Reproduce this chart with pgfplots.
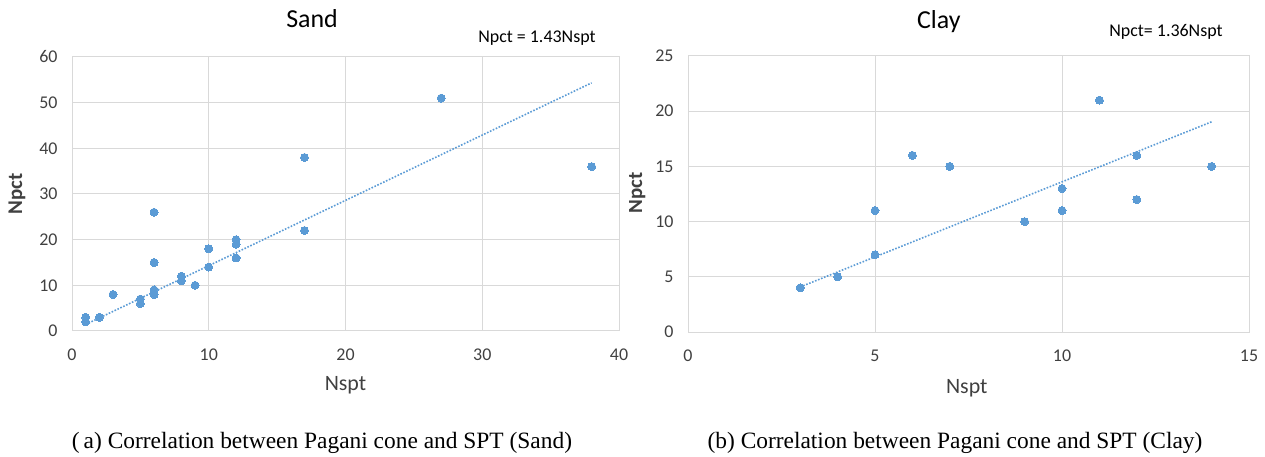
\documentclass[border=0pt]{standalone}
\usepackage{fontspec}
\setmainfont{Carlito}
\newfontfamily\capfont{Liberation Serif}
\usepackage{pgfplots}
\usepackage{pgfplotstable}
\pgfplotsset{compat=1.18}
\definecolor{pt}{HTML}{5B9BD5}
\definecolor{grd}{HTML}{D9D9D9}
\definecolor{txt}{HTML}{404040}

\pgfplotstableread{
x y
1 2
1 3
2 3
3 8
5 6
5 7
6 8
6 9
6 15
6 26
8 11
8 12
9 10
10 14
10 18
12 16
12 19
12 20
17 22
17 38
27 51
38 36
}\sand

\pgfplotstableread{
x y
3 4
4 5
5 7
5 11
6 16
7 15
9 10
10 11
10 13
11 21
12 12
12 16
14 15
}\clay

\pgfplotsset{
  myax/.style={
    scale only axis, anchor=south west, clip=false,
    axis line style={grd, line width=1bp},
    grid=major, grid style={grd, line width=1bp},
    major tick length=0pt, tick style={draw=none},
    ticklabel style={font=\fontsize{18}{20}\selectfont, text=txt},
    xticklabel style={yshift=-14bp},
    yticklabel style={xshift=-11bp},
    /pgf/number format/assume math mode=true,
    every axis title shift=0pt,
    title style={anchor=base, font=\fontsize{26}{28}\selectfont, text=black},
    xlabel style={anchor=center, font=\fontsize{22}{24}\selectfont, text=txt},
    ylabel style={anchor=center, font=\fontsize{21}{24}\selectfont\bfseries, text=txt},
  },
  pts/.style={only marks, mark=*, mark size=4bp, mark options={fill=pt, draw=pt, line width=0pt}},
  trend/.style={pt, line width=1.6bp, dash pattern=on 1.6bp off 1.6bp, no markers},
}

\begin{document}
\begin{tikzpicture}
\path[use as bounding box] (0,0) rectangle (1265bp,457bp);

\begin{axis}[myax,
  at={(72bp,126bp)}, width=547bp, height=274bp,
  xmin=0, xmax=40, ymin=0, ymax=60,
  xtick={0,10,20,30,40}, ytick={0,10,20,30,40,50,60},
  title={Sand}, title style={at={(axis description cs:0.4388,1.106)}},
  xlabel={Nspt}, xlabel style={at={(axis description cs:0.5,-0.197)}},
  ylabel={Npct}, ylabel style={at={(axis description cs:-0.1005,0.5)}},
]
\addplot[pts] table[x=x, y=y] {\sand};
\addplot[trend] coordinates {(1,1.43) (38,54.34)};
\node[font=\fontsize{18}{20}\selectfont, text=black] at (axis description cs:0.850,1.069) {Npct = 1.43Nspt};
\end{axis}

\begin{axis}[myax,
  at={(688bp,125bp)}, width=561bp, height=276bp,
  xmin=0, xmax=15, ymin=0, ymax=25,
  xtick={0,5,10,15}, ytick={0,5,10,15,20,25},
  title={Clay}, title style={at={(axis description cs:0.447,1.101)}},
  xlabel={Nspt}, xlabel style={at={(axis description cs:0.497,-0.203)}},
]
\addplot[pts] table[x=x, y=y] {\clay};
\addplot[trend] coordinates {(3,4.08) (14,19.04)};
\node[font=\fontsize{18}{20}\selectfont, text=black] at (axis description cs:0.852,1.087) {Npct= 1.36Nspt};
\end{axis}

\begin{scope}
\clip (629bp,100bp) rectangle (700bp,400bp);
\node[rotate=90, font=\fontsize{21}{24}\selectfont\bfseries, text=txt] at (637bp,264bp) {Npct};
\end{scope}

\node[anchor=base, font=\capfont\fontsize{23.5}{26}\selectfont] at (322bp,9bp) {(\hspace{4bp}a) Correlation between Pagani cone and SPT (Sand)};
\node[anchor=base, font=\capfont\fontsize{23.5}{26}\selectfont] at (955bp,9bp) {(b) Correlation between Pagani cone and SPT (Clay)};
\end{tikzpicture}
\end{document}
